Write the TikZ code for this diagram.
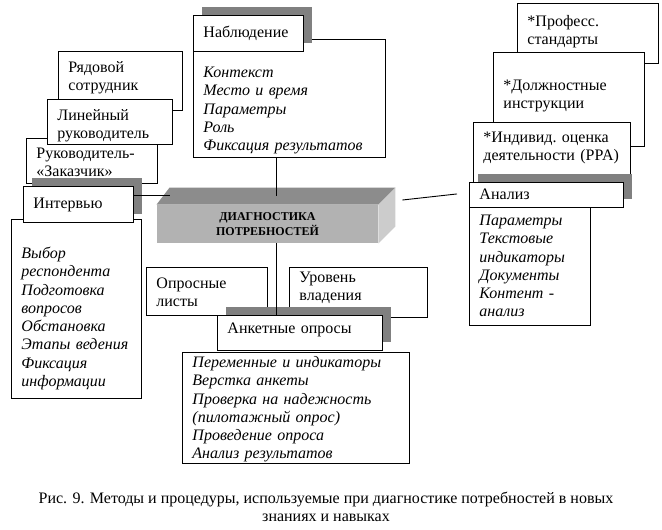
\documentclass[tikz,border=0pt]{standalone}
\usepackage{fontspec}
\setmainfont{Liberation Serif}
\usetikzlibrary{positioning,shadows,calc}
\definecolor{shadegray}{HTML}{808080}
\definecolor{frontgray}{HTML}{B2B2B2}
\definecolor{topgray}{HTML}{8C8C8C}
\definecolor{sidegray}{HTML}{CCCCCC}
\tikzset{%
  % Specifications for style of nodes:
  box/.style={draw, fill=white, anchor=north west, align=left, inner xsep=10pt, inner ysep=0pt,
    font=\fontsize{16}{18.3}\selectfont},
  list/.style={box, font=\fontsize{16}{18.3}\selectfont\itshape},
  shad/.style={drop shadow={shadow xshift=9pt, shadow yshift=8pt, fill=shadegray, opacity=1}},
}
\begin{document}
\begin{tikzpicture}[x=1pt, y=-1pt, line width=0.9pt]
  \useasboundingbox (0,0) rectangle (662,530);
  % Interview
  \node[box, text width=104pt, text height=21pt, text depth=38pt] (ryad) at (58,51) {Рядовой\\сотрудник};
  \node[box, text width=111pt, text height=20pt, text depth=25pt] (ruk) at (26,138) {Руководитель-\\«Заказчик»};
  \node[box, text width=105pt, text height=21pt, text depth=24pt] (lin) at (47,99) {Линейный\\руководитель};
  \node[list, text width=110pt, text height=39pt, text depth=140pt] (intvdet) at (11,219)
    {Выбор\\респондента\\Подготовка\\вопросов\\Обстановка\\Этапы~ведения\\Фиксация\\информации};
  \node[box, shad, text width=90pt, text height=22pt, text depth=14pt] (intv) at (23,186) {Интервью};
  % Observation
  \node[list, text width=172pt, text height=38pt, text depth=80pt] (nabldet) at (193,39)
    {Контекст\\Место~и~время\\Параметры\\Роль\\Фиксация~результатов};
  \node[box, shad, text width=90pt, text height=22pt, text depth=14pt] (nabl) at (193,15) {Наблюдение};
  % Analysis
  \node[box, text width=121pt, text height=23pt, text depth=37pt] (prof) at (517,3) {*Професс.\\стандарты};
  \node[box, text width=131pt, text height=38pt, text depth=56pt] (dolzh) at (493,52) {*Должностные\\инструкции};
  \node[box, text width=137pt, text height=20pt, text depth=49pt] (indiv) at (473,122) {*Индивид.~оценка\\деятельности~(PPA)};
  \node[list, text width=101pt, text height=18pt, text depth=100pt] (analdet) at (469,207)
    {Параметры\\Текстовые\\индикаторы\\Документы\\Контент~-\\анализ};
  \node[box, shad, text width=134pt, text height=17pt, text depth=8pt] (anal) at (469,182) {Анализ};
  % Questionnaires
  \node[box, text width=101pt, text height=21pt, text depth=27pt] (opros) at (146,267) {Опросные\\листы};
  \node[box, text width=118pt, text height=15pt, text depth=35pt] (urov) at (289,267) {Уровень\\владения};
  \node[list, text width=207pt, text height=15pt, text depth=96pt] (anketdet) at (182,352)
    {Переменные~и~индикаторы\\Верстка~анкеты\\Проверка~на~надежность\\(пилотажный~опрос)\\Проведение~опроса\\Анализ~результатов};
  \node[box, shad, text width=145pt, text height=18pt, text depth=17pt] (anket) at (217,315) {Анкетные~опросы};
  % Centre block
  \node[fill=frontgray, inner sep=0pt, minimum width=221pt, minimum height=38pt, align=center,
    font=\fontsize{12}{15}\selectfont\bfseries] (diag) at (267.5,224) {ДИАГНОСТИКА\\ПОТРЕБНОСТЕЙ};
  \fill[topgray] (diag.north west) -- ([shift={(13pt,17pt)}]diag.north west)
    -- ([shift={(17pt,17pt)}]diag.north east) -- (diag.north east) -- cycle;
  \fill[sidegray] (diag.north east) -- ([shift={(17pt,17pt)}]diag.north east)
    -- ([shift={(17pt,17pt)}]diag.south east) -- (diag.south east) -- cycle;
  \coordinate (dtop) at ($(diag.north)+(9pt,8.5pt)$);
  \coordinate (dleft) at ($(diag.north west)+(13pt,9pt)$);
  \coordinate (dright) at ($(diag.east)+(24pt,24pt)$);
  \coordinate (aleft) at ($(anal.west)+(-12pt,1pt)$);
  \draw (nabldet.south -| dtop) -- (dtop);
  \draw (diag.south -| dtop) -- (anket.north -| dtop);
  \draw (intv.east |- dleft) -- (dleft);
  \draw (dright) -- (aleft);
  \node[align=center, font=\fontsize{16}{18}\selectfont] (cap) at (326,507)
    {Рис. 9. Методы и процедуры, используемые при диагностике потребностей в новых\\знаниях и навыках};
\end{tikzpicture}
\end{document}
